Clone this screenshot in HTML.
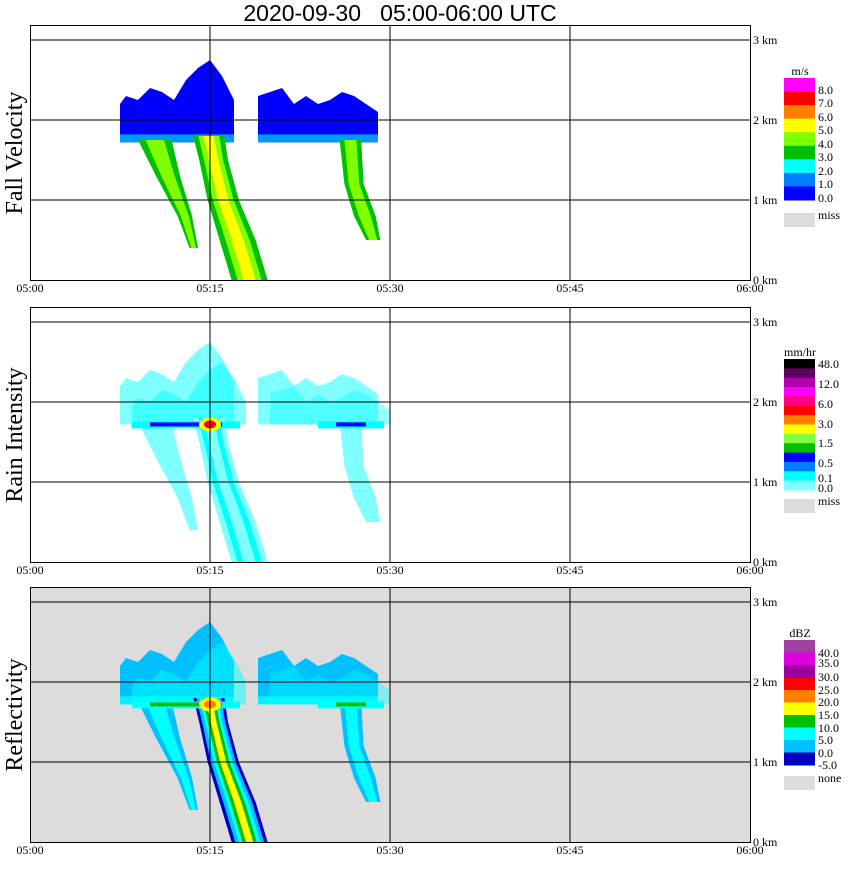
<!DOCTYPE html>
<html><head><meta charset="utf-8">
<style>
body{margin:0;background:#fff;width:850px;height:868px;overflow:hidden;font-family:"Liberation Serif",serif;}
svg text{font-family:"Liberation Serif",serif;}
svg text.ttl{font-family:"Liberation Sans",sans-serif;}
</style></head>
<body>
<svg id="c" width="850" height="868" xmlns="http://www.w3.org/2000/svg">
<text class="ttl" x="400" y="21" font-size="23" text-anchor="middle" xml:space="preserve">2020-09-30   05:00-06:00 UTC</text>
</svg>
<script>
// ---- data (time in minutes after 05:00, height in km) ----
const timeTicks=[0,15,30,45,60];
const timeLabels=["05:00","05:15","05:30","05:45","06:00"];
const heightTicks=[0,1,2,3];
const heightLabels=["0 km","1 km","2 km","3 km"];
const cloudAT=[7.5,8,9,10,11,12,13,14,15,16,17];
const cloudATop=[2.2,2.3,2.25,2.4,2.35,2.25,2.5,2.65,2.75,2.55,2.25];
const cloudBT=[19,20,21,22,23,24,25,26,27,28,29];
const cloudBTop=[2.3,2.35,2.4,2.2,2.3,2.2,2.25,2.35,2.3,2.2,2.1];
const cloudBase=1.72;
const mainH=[1.8,1.5,1.0,0.5,0.0];
const mainL=[13.6,14.1,14.8,15.8,16.8];
const mainR=[16.2,16.5,17.4,18.8,19.8];
const leftH=[1.75,1.3,0.8,0.4];
const leftL=[9.0,10.5,12.3,13.3];
const leftR=[11.8,12.5,13.5,14.0];
const rightH=[1.75,1.2,0.8,0.5];
const rightL=[25.8,26.2,27.0,28.0];
const rightR=[27.6,27.8,28.8,29.2];
const bandA=[8.5,17.5];
const bandB=[24,29.5];
const bandH=1.72;

const panels=[{top:25,name:"Fall Velocity",id:"fall-velocity"},{top:307,name:"Rain Intensity",id:"rain-intensity"},{top:587,name:"Reflectivity",id:"reflectivity"}];
const svg=document.getElementById('c');
const NS="http://www.w3.org/2000/svg";
const X=t=>30+t*12;
function mk(tag,attrs,parent){const e=document.createElementNS(NS,tag);for(const k in attrs)e.setAttribute(k,attrs[k]);(parent||svg).appendChild(e);return e;}

function shaftPts(Y,H,L,R,f){
  const l=[],r=[];
  for(let i=0;i<H.length;i++){const c=(L[i]+R[i])/2,h=(R[i]-L[i])/2*f;l.push(X(c-h)+","+Y(H[i]));r.unshift(X(c+h)+","+Y(H[i]));}
  return l.concat(r).join(" ");
}
function cloudPts(Y,T,Top){
  const p=[X(T[0])+","+Y(cloudBase)];
  for(let i=0;i<T.length;i++)p.push(X(T[i])+","+Y(Top[i]));
  p.push(X(T[T.length-1])+","+Y(cloudBase));return p.join(" ");
}

const schemes=[
 {bg:"#fff",cloud:"#0000ff",cloudEdge:"#0080ff",base:"#00c0ff",shaft:["#00c000","#80ff00","#ffff00"],side:["#00c000","#80ff00"],band:null},
 {bg:"#fff",cloud:"#80ffff",cloudEdge:"#00ffff",base:"#80ffff",shaft:["#80ffff","#00ffff","#80ffff"],side:["#80ffff","#80ffff"],band:["#0000ff","#00ffff"]},
 {bg:"#dcdcdc",cloud:"#00c0ff",cloudEdge:"#00ffff",base:"#00ffff",shaft:["#0000c0","#00c0ff","#00ffff","#00c000","#ffff00"],side:["#00c0ff","#00ffff"],band:["#00c000","#00ffff"]}
];

panels.forEach((p,pi)=>{
  const Y=h=>p.top+255-h*80;
  const s=schemes[pi];
  const g=mk('g',{});
  
  
  mk('rect',{x:30,y:p.top,width:720,height:255,fill:s.bg},g);
  [[cloudAT,cloudATop,'cloud-a'],[cloudBT,cloudBTop,'cloud-b']].forEach(([T,Top,n])=>{
    const e=mk('polygon',{points:cloudPts(Y,T,Top),fill:s.cloud},g);
    
    
    const e2=mk('rect',{x:X(T[0]),y:Y(cloudBase+0.1),width:X(T[T.length-1])-X(T[0]),height:8,fill:s.base,opacity:0.8},g);
    
    
  });
  if(pi!==0){
    mk('polygon',{points:cloudPts(Y,cloudAT.map(t=>t+1),cloudATop.map(v=>v-0.25)),fill:s.cloudEdge,opacity:0.5},g);
    mk('polygon',{points:cloudPts(Y,cloudBT.map(t=>t+1),cloudBTop.map(v=>v-0.2)),fill:s.cloudEdge,opacity:0.4},g);
  }
  [[leftH,leftL,leftR,'left-shaft'],[rightH,rightL,rightR,'right-shaft']].forEach(([H,L,R,n])=>{
    s.side.forEach((c,k)=>{
      const e=mk('polygon',{points:shaftPts(Y,H,L,R,1-k*0.45),fill:c},g);
      
      
    });
  });
  s.shaft.forEach((c,k)=>{
    const f=1-k/(s.shaft.length);
    const e=mk('polygon',{points:shaftPts(Y,mainH,mainL,mainR,f),fill:c},g);
    
    
  });
  if(s.band){
    [bandA,bandB].forEach(b=>{
      const e=mk('rect',{x:X(b[0]),y:Y(bandH)-3,width:X(b[1])-X(b[0]),height:7,fill:s.band[1]},g);
      
      
      mk('rect',{x:X(b[0]+1.5),y:Y(bandH)-2,width:X(b[1])-X(b[0]+3),height:4,fill:s.band[0]},g);
    });
    const c1=mk('ellipse',{cx:X(15),cy:Y(bandH),rx:11,ry:7,fill:"#ffff00"},g);
    
    
    mk('ellipse',{cx:X(15),cy:Y(bandH),rx:6,ry:4,fill:pi===1?"#ff0000":"#ff8000"},g);
  }
  timeTicks.slice(1,4).forEach(t=>{mk('line',{x1:X(t),x2:X(t),y1:p.top,y2:p.top+255,stroke:"#000"},g);});
  heightTicks.slice(1).forEach(h=>{mk('line',{x1:30,x2:750,y1:Y(h),y2:Y(h),stroke:"#000"},g);});
  mk('rect',{x:30.5,y:p.top+0.5,width:720,height:255,fill:"none",stroke:"#000"},g);
  timeTicks.forEach((t,i)=>{
    const e=mk('text',{x:X(t),y:p.top+267,'font-size':12,'text-anchor':'middle'},g);
    e.textContent=timeLabels[i];
    
    
  });
  heightTicks.forEach((h,i)=>{
    const e=mk('text',{x:753,y:Y(h)+4,'font-size':12},g);
    e.textContent=heightLabels[i];
    
    
  });
  const yt=mk('text',{x:0,y:0,'font-size':24,'text-anchor':'middle',transform:`translate(22,${p.top+128}) rotate(-90)`},g);
  yt.textContent=p.name;
  
  
});

const leg1Colors=["#ff00ff","#ff0000","#ff8000","#ffff00","#80ff00","#00c000","#00ffff","#0080ff","#0000ff"];
const leg1Labels=["8.0","7.0","6.0","5.0","4.0","3.0","2.0","1.0","0.0"];
const leg2Colors=["#000000","#600060","#b000b0","#ff00ff","#ff0080","#ff0000","#ff8000","#ffff00","#80ff40","#00c000","#0000ff","#0080ff","#00ffff","#80ffff"];
const leg2Labels=["48.0","12.0","6.0","3.0","1.5","0.5","0.1","0.0"];
const leg3Colors=["#a040a0","#e000e0","#a000a0","#ff0000","#ff8000","#ffff00","#00c000","#00ffff","#00c0ff","#0000c0"];
const leg3Labels=["40.0","35.0","30.0","25.0","20.0","15.0","10.0","5.0","0.0","-5.0"];
function legend(name,unit,colors,labels,top,bottom,labelYs,missLabel,missY){
  const g=mk('g',{});
  
  
  const u=mk('text',{x:800,y:top-3,'font-size':12,'text-anchor':'middle'},g);u.textContent=unit;
  const bh=(bottom-top)/colors.length;
  colors.forEach((c,i)=>mk('rect',{x:784,y:top+i*bh,width:31,height:bh+0.5,fill:c},g));
  labels.forEach((l,i)=>{const t=mk('text',{x:818,y:labelYs[i]+4,'font-size':12},g);t.textContent=l;});
  mk('rect',{x:784,y:missY-5,width:31,height:14,fill:"#dcdcdc"},g);
  const m=mk('text',{x:818,y:missY+1,'font-size':12},g);m.textContent=missLabel;
}
legend('fall-velocity-legend','m/s',leg1Colors,leg1Labels,78,200,[90,103,117,130,144,157,171,184,198],'miss',218);
legend('rain-intensity-legend','mm/hr',leg2Colors,leg2Labels,359,490,[364,384,404,424,443,463,478,488],'miss',504);
legend('reflectivity-legend','dBZ',leg3Colors,leg3Labels,640,765,[653,663,677,690,702,715,728,740,753,765],'none',781);
</script>
</body></html>
